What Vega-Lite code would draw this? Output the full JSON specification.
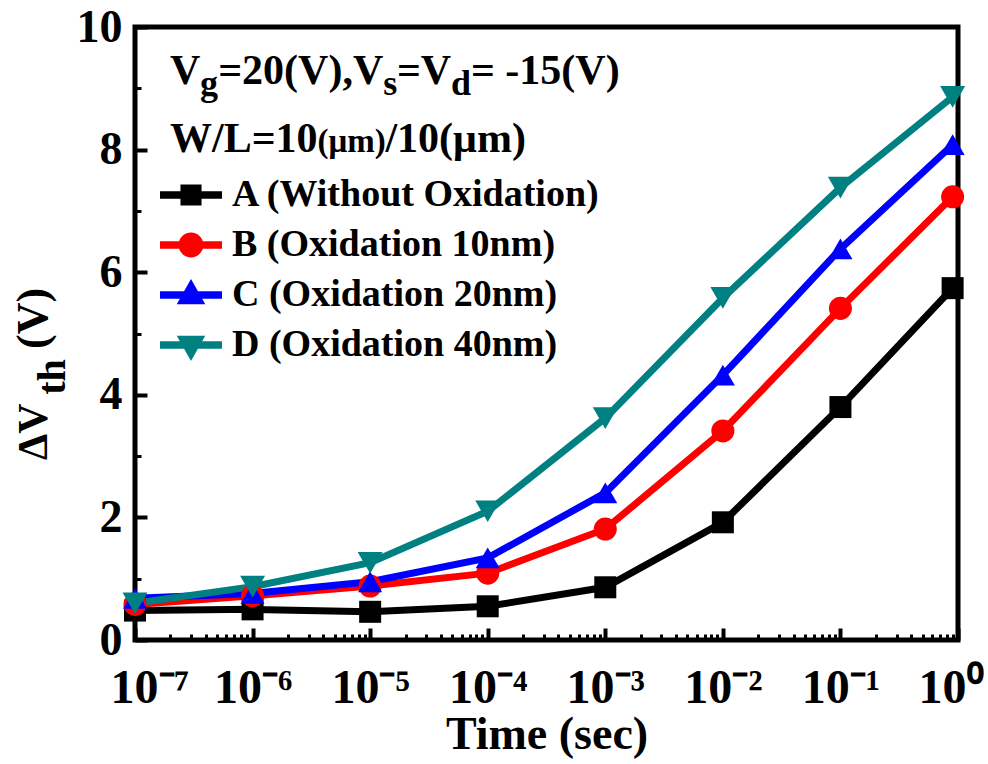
{
  "$schema": "https://vega.github.io/schema/vega-lite/v6.json",
  "width": 823,
  "height": 613,
  "autosize": {"type": "none"},
  "padding": {"left": 135, "top": 27, "right": 30, "bottom": 124},
  "background": "white",
  "config": {
    "view": {"stroke": "black", "strokeWidth": 5},
    "font": "Liberation Serif"
  },
  "datasets": {
    "dvth": [
      {"sample": "A (Without Oxidation)", "time": 1e-7, "dvth": 0.48},
      {"sample": "A (Without Oxidation)", "time": 1e-6, "dvth": 0.5},
      {"sample": "A (Without Oxidation)", "time": 1e-5, "dvth": 0.46},
      {"sample": "A (Without Oxidation)", "time": 1e-4, "dvth": 0.55},
      {"sample": "A (Without Oxidation)", "time": 1e-3, "dvth": 0.86},
      {"sample": "A (Without Oxidation)", "time": 1e-2, "dvth": 1.92},
      {"sample": "A (Without Oxidation)", "time": 1e-1, "dvth": 3.8},
      {"sample": "A (Without Oxidation)", "time": 0.9, "dvth": 5.74},
      {"sample": "B (Oxidation 10nm)", "time": 1e-7, "dvth": 0.58},
      {"sample": "B (Oxidation 10nm)", "time": 1e-6, "dvth": 0.72},
      {"sample": "B (Oxidation 10nm)", "time": 1e-5, "dvth": 0.88},
      {"sample": "B (Oxidation 10nm)", "time": 1e-4, "dvth": 1.09},
      {"sample": "B (Oxidation 10nm)", "time": 1e-3, "dvth": 1.81},
      {"sample": "B (Oxidation 10nm)", "time": 1e-2, "dvth": 3.41},
      {"sample": "B (Oxidation 10nm)", "time": 1e-1, "dvth": 5.41},
      {"sample": "B (Oxidation 10nm)", "time": 0.9, "dvth": 7.23},
      {"sample": "C (Oxidation 20nm)", "time": 1e-7, "dvth": 0.68},
      {"sample": "C (Oxidation 20nm)", "time": 1e-6, "dvth": 0.76},
      {"sample": "C (Oxidation 20nm)", "time": 1e-5, "dvth": 0.95},
      {"sample": "C (Oxidation 20nm)", "time": 1e-4, "dvth": 1.34},
      {"sample": "C (Oxidation 20nm)", "time": 1e-3, "dvth": 2.4},
      {"sample": "C (Oxidation 20nm)", "time": 1e-2, "dvth": 4.32},
      {"sample": "C (Oxidation 20nm)", "time": 1e-1, "dvth": 6.38},
      {"sample": "C (Oxidation 20nm)", "time": 0.9, "dvth": 8.08},
      {"sample": "D (Oxidation 40nm)", "time": 1e-7, "dvth": 0.6},
      {"sample": "D (Oxidation 40nm)", "time": 1e-6, "dvth": 0.87},
      {"sample": "D (Oxidation 40nm)", "time": 1e-5, "dvth": 1.26},
      {"sample": "D (Oxidation 40nm)", "time": 1e-4, "dvth": 2.1},
      {"sample": "D (Oxidation 40nm)", "time": 1e-3, "dvth": 3.62},
      {"sample": "D (Oxidation 40nm)", "time": 1e-2, "dvth": 5.58},
      {"sample": "D (Oxidation 40nm)", "time": 1e-1, "dvth": 7.38},
      {"sample": "D (Oxidation 40nm)", "time": 0.9, "dvth": 8.86}
    ]
  },
  "resolve": {"axis": {"x": "independent", "y": "independent"}},
  "layer": [
    {
      "layer": [
        {
          "data": {"name": "dvth"},
          "mark": {"type": "line", "strokeWidth": 7},
          "encoding": {
            "x": {
              "field": "time", "type": "quantitative",
              "scale": {"type": "log", "domain": [1e-7, 1], "nice": false},
              "axis": {
                "orient": "bottom",
                "values": [1e-7, 1e-6, 1e-5, 1e-4, 1e-3, 1e-2, 1e-1, 1],
                "title": "Time (sec)",
                "titleFont": "Liberation Serif", "titleFontSize": 46, "titleFontWeight": "bold", "titleColor": "black", "titlePadding": 0,
                "labelExpr": "'10' + ['⁻⁷','⁻⁶','⁻⁵','⁻⁴','⁻³','⁻²','⁻¹','⁰'][round(log(datum.value)/LN10)+7]",
                "labelFont": "Liberation Serif", "labelFontSize": 48, "labelFontWeight": "bold", "labelColor": "black",
                "labelPadding": 36, "labelOverlap": false, "labelFlush": true, "labelFlushOffset": 25,
                "domain": false, "grid": false, "ticks": true, "tickColor": "black",
                "tickSize": -12, "tickWidth": 4
              }
            },
            "y": {
              "field": "dvth", "type": "quantitative",
              "scale": {"domain": [0, 10], "nice": false},
              "axis": {
                "orient": "left",
                "values": [0, 2, 4, 6, 8, 10],
                "format": "d",
                "title": null,
                "labelFont": "Liberation Serif", "labelFontSize": 46, "labelFontWeight": "bold", "labelColor": "black",
                "labelPadding": 25, "labelOverlap": false, "labelFlush": false,
                "domain": false, "grid": false, "ticks": true, "tickColor": "black",
                "tickSize": -12, "tickWidth": 4
              }
            },
            "color": {
              "field": "sample", "type": "nominal",
              "scale": {
                "domain": ["A (Without Oxidation)", "B (Oxidation 10nm)", "C (Oxidation 20nm)", "D (Oxidation 40nm)"],
                "range": ["#000000", "#ff0000", "#0000ff", "#008080"]
              },
              "legend": {
                "title": null,
                "orient": "none", "legendX": 25, "legendY": 137,
                "padding": 0,
                "symbolSize": 1444, "symbolStrokeWidth": 0,
                "labelOffset": 10, "rowPadding": -6, "labelLimit": 0,
                "labelFont": "Liberation Serif", "labelFontSize": 38, "labelFontWeight": "bold", "labelColor": "black",
                "encode": {
                  "symbols": {
                    "update": {
                      "shape": {"signal": "substring(datum.value,0,1) == 'A' ? 'M-1,-0.12H1V0.12H-1Z M-0.34,-0.34H0.34V0.34H-0.34Z' : substring(datum.value,0,1) == 'B' ? 'M-1,-0.12H1V0.12H-1Z M-0.4,0A0.4,0.4 0 1,1 0.4,0A0.4,0.4 0 1,1 -0.4,0Z' : substring(datum.value,0,1) == 'C' ? 'M-1,-0.12H1V0.12H-1Z M0,-0.52L0.46,0.3L-0.46,0.3Z' : 'M-1,-0.12H1V0.12H-1Z M-0.46,-0.3L0.46,-0.3L0,0.52Z'"},
                      "size": {"value": 3844},
                      "fill": {"scale": "color", "field": "value"},
                      "fillOpacity": {"value": 1},
                      "opacity": {"value": 1},
                      "strokeWidth": {"value": 0}
                    }
                  }
                }
              }
            }
          }
        },
        {"data": {"values": [{}]}, "mark": {"type": "text", "text": "V", "font": "Liberation Serif", "fontWeight": "bold", "fontSize": 42, "align": "left", "baseline": "alphabetic", "color": "black"},
         "encoding": {"x": {"datum": 1.984e-7, "type": "quantitative"}, "y": {"datum": 9.07, "type": "quantitative"}}},
        {"data": {"values": [{}]}, "mark": {"type": "text", "text": "g", "font": "Liberation Serif", "fontWeight": "bold", "fontSize": 36, "align": "left", "baseline": "alphabetic", "color": "black"},
         "encoding": {"x": {"datum": 3.571e-7, "type": "quantitative"}, "y": {"datum": 8.891, "type": "quantitative"}}},
        {"data": {"values": [{}]}, "mark": {"type": "text", "text": "=20(V),V", "font": "Liberation Serif", "fontWeight": "bold", "fontSize": 42, "align": "left", "baseline": "alphabetic", "color": "black"},
         "encoding": {"x": {"datum": 5.1e-7, "type": "quantitative"}, "y": {"datum": 9.07, "type": "quantitative"}}},
        {"data": {"values": [{}]}, "mark": {"type": "text", "text": "s", "font": "Liberation Serif", "fontWeight": "bold", "fontSize": 36, "align": "left", "baseline": "alphabetic", "color": "black"},
         "encoding": {"x": {"datum": 1.29e-5, "type": "quantitative"}, "y": {"datum": 8.891, "type": "quantitative"}}},
        {"data": {"values": [{}]}, "mark": {"type": "text", "text": "=V", "font": "Liberation Serif", "fontWeight": "bold", "fontSize": 42, "align": "left", "baseline": "alphabetic", "color": "black"},
         "encoding": {"x": {"datum": 1.69e-5, "type": "quantitative"}, "y": {"datum": 9.07, "type": "quantitative"}}},
        {"data": {"values": [{}]}, "mark": {"type": "text", "text": "d", "font": "Liberation Serif", "fontWeight": "bold", "fontSize": 36, "align": "left", "baseline": "alphabetic", "color": "black"},
         "encoding": {"x": {"datum": 4.87e-5, "type": "quantitative"}, "y": {"datum": 8.891, "type": "quantitative"}}},
        {"data": {"values": [{}]}, "mark": {"type": "text", "text": "= -15(V)", "font": "Liberation Serif", "fontWeight": "bold", "fontSize": 42, "align": "left", "baseline": "alphabetic", "color": "black"},
         "encoding": {"x": {"datum": 7.2e-5, "type": "quantitative"}, "y": {"datum": 9.07, "type": "quantitative"}}},
        {"data": {"values": [{}]}, "mark": {"type": "text", "text": "W/L=10", "font": "Liberation Serif", "fontWeight": "bold", "fontSize": 42, "align": "left", "baseline": "alphabetic", "color": "black"},
         "encoding": {"x": {"datum": 1.984e-7, "type": "quantitative"}, "y": {"datum": 7.961, "type": "quantitative"}}},
        {"data": {"values": [{}]}, "mark": {"type": "text", "text": "(μm)", "font": "Liberation Serif", "fontWeight": "bold", "fontSize": 33, "align": "left", "baseline": "alphabetic", "color": "black"},
         "encoding": {"x": {"datum": 3.572e-6, "type": "quantitative"}, "y": {"datum": 7.961, "type": "quantitative"}}},
        {"data": {"values": [{}]}, "mark": {"type": "text", "text": "/10(μm)", "font": "Liberation Serif", "fontWeight": "bold", "fontSize": 42, "align": "left", "baseline": "alphabetic", "color": "black"},
         "encoding": {"x": {"datum": 1.349e-5, "type": "quantitative"}, "y": {"datum": 7.961, "type": "quantitative"}}},
        {"data": {"values": [{}]}, "mark": {"type": "text", "text": "ΔV", "angle": 270, "font": "Liberation Serif", "fontWeight": "bold", "fontSize": 42, "align": "left", "baseline": "alphabetic", "color": "black"},
         "encoding": {"x": {"datum": 1.784e-8, "type": "quantitative"}, "y": {"datum": 2.936, "type": "quantitative"}}},
        {"data": {"values": [{}]}, "mark": {"type": "text", "text": "th", "angle": 270, "font": "Liberation Serif", "fontWeight": "bold", "fontSize": 40, "align": "left", "baseline": "alphabetic", "color": "black"},
         "encoding": {"x": {"datum": 2.539e-8, "type": "quantitative"}, "y": {"datum": 4.0, "type": "quantitative"}}},
        {"data": {"values": [{}]}, "mark": {"type": "text", "text": "(V)", "angle": 270, "font": "Liberation Serif", "fontWeight": "bold", "fontSize": 44, "align": "left", "baseline": "alphabetic", "color": "black"},
         "encoding": {"x": {"datum": 1.784e-8, "type": "quantitative"}, "y": {"datum": 4.747, "type": "quantitative"}}}
      ]
    },
    {
      "data": {"name": "dvth"},
      "mark": {"type": "point", "filled": true, "opacity": 1},
      "encoding": {
        "x": {
          "field": "time", "type": "quantitative",
          "axis": {
            "orient": "bottom",
            "values": [2e-7,3e-7,4e-7,5e-7,6e-7,7e-7,8e-7,9e-7,
                       2e-6,3e-6,4e-6,5e-6,6e-6,7e-6,8e-6,9e-6,
                       2e-5,3e-5,4e-5,5e-5,6e-5,7e-5,8e-5,9e-5,
                       2e-4,3e-4,4e-4,5e-4,6e-4,7e-4,8e-4,9e-4,
                       2e-3,3e-3,4e-3,5e-3,6e-3,7e-3,8e-3,9e-3,
                       2e-2,3e-2,4e-2,5e-2,6e-2,7e-2,8e-2,9e-2,
                       2e-1,3e-1,4e-1,5e-1,6e-1,7e-1,8e-1,9e-1],
            "title": null, "labels": false, "domain": false, "grid": false,
            "ticks": true, "tickColor": "black", "tickSize": -6, "tickWidth": 3
          }
        },
        "y": {
          "field": "dvth", "type": "quantitative",
          "axis": {
            "orient": "left",
            "values": [1, 3, 5, 7, 9],
            "title": null, "labels": false, "domain": false, "grid": false,
            "ticks": true, "tickColor": "black", "tickSize": -6, "tickWidth": 3
          }
        },
        "color": {"field": "sample", "type": "nominal", "legend": null},
        "shape": {"field": "sample", "type": "nominal", "scale": {"range": ["square", "circle", "triangle-up", "triangle-down"]}, "legend": null},
        "size": {"field": "sample", "type": "ordinal", "scale": {"range": [484, 625, 784, 784]}, "legend": null}
      }
    }
  ]
}
